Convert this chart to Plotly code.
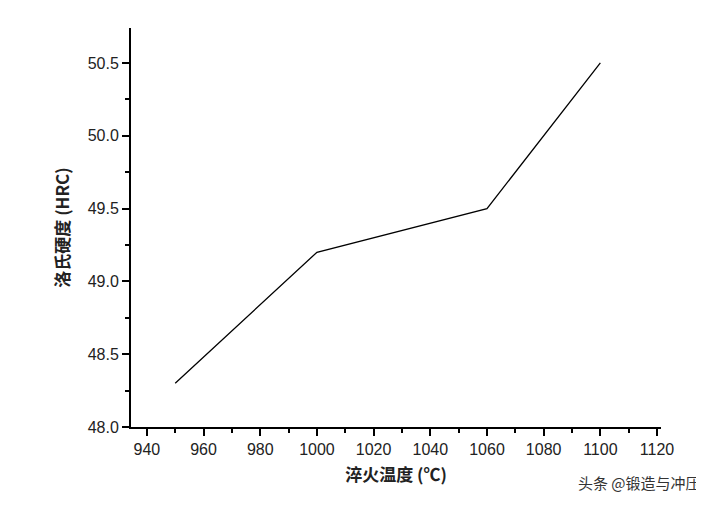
import plotly.graph_objects as go

temps = [950, 1000, 1060, 1100]
hardness = [48.3, 49.2, 49.5, 50.5]

fig = go.Figure(go.Scatter(x=temps, y=hardness, mode="lines",
                           line=dict(color="black", width=1.3)))
axfont = dict(family="Liberation Sans, Arial", size=16, color="#222")
tfont = dict(family="Noto Sans CJK SC", size=17, color="#222", weight="bold")
fig.update_layout(
    width=704, height=511, paper_bgcolor="white", plot_bgcolor="white",
    margin=dict(l=123, r=51, t=20, b=92), showlegend=False,
    xaxis=dict(range=[934.4, 1121.4], tickvals=list(range(940, 1121, 20)),
               showline=True, linecolor="black", linewidth=2, showgrid=False,
               zeroline=False, ticks="outside", ticklen=7, tickwidth=2, tickcolor="black",
               minor=dict(dtick=10, tick0=930, ticks="outside", ticklen=4, tickwidth=2, tickcolor="black"),
               tickfont=axfont,
               title=dict(text="淬火温度 (℃)", font=tfont, standoff=12)),
    yaxis=dict(range=[48.0, 50.74], tickvals=[48.0, 48.5, 49.0, 49.5, 50.0, 50.5],
               tickformat=".1f",
               showline=True, linecolor="black", linewidth=2, showgrid=False,
               zeroline=False, ticks="outside", ticklen=7, tickwidth=2, tickcolor="black",
               minor=dict(dtick=0.25, tick0=48.0, ticks="outside", ticklen=4, tickwidth=2, tickcolor="black"),
               tickfont=axfont,
               title=dict(text="洛氏硬度 (HRC)", font=tfont, standoff=14)),
)
fig.add_annotation(text="头条 @锻造与冲压", xref="paper", yref="paper", x=1.08, y=-0.14,
                   xanchor="right", yanchor="middle", showarrow=False,
                   font=dict(family="Noto Sans CJK SC", size=15, color="#333"))
fig.write_html("out.html")
